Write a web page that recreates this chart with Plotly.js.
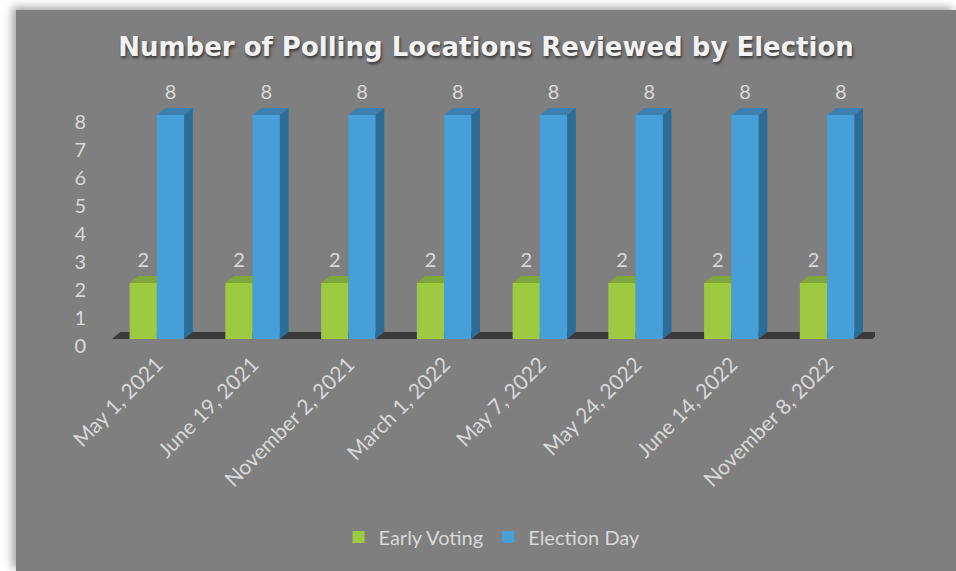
<!DOCTYPE html>
<html>
<head>
<meta charset="utf-8">
<script src="https://cdn.plot.ly/plotly-3.0.1.min.js"></script>
<style>
  html, body { margin: 0; padding: 0; background: #ffffff; width: 956px; height: 571px; overflow: hidden; }
  #frame { position: absolute; left: 16px; top: 10px; width: 940px; height: 561px;
           background: #7f7f7f; box-shadow: -4px -3px 8px rgba(0,0,0,0.35); }
  #chart { width: 940px; height: 561px; }
</style>
</head>
<body>
<div id="frame"><div id="chart"></div></div>
<script>
// ---- data ----
const categories = ["May 1, 2021", "June 19, 2021", "November 2, 2021", "March 1, 2022",
                    "May 7, 2022", "May 24, 2022", "June 14, 2022", "November 8, 2022"];
const earlyVoting = [2, 2, 2, 2, 2, 2, 2, 2];
const electionDay = [8, 8, 8, 8, 8, 8, 8, 8];
const seriesNames = ["Early Voting", "Election Day"];
const yTicks = [0, 1, 2, 3, 4, 5, 6, 7, 8];

// ---- styling / geometry (in axis units) ----
const W = 0.285;     // front width of each bar
const DX = 0.09;     // 3D depth, horizontal
const DY = 0.25;     // 3D depth, vertical
const LABEL_LIFT = 0.4;
const idx = categories.map((_, i) => i);
const labelFont = { family: "Lato, 'Open Sans', sans-serif", size: 20, color: "#d9d9d9" };
const xTickFont = { family: "Lato, 'Open Sans', sans-serif", size: 21, color: "#d9d9d9" };

function polys(builder) {
  const xs = [], ys = [];
  idx.forEach(i => {
    const p = builder(i);
    p.forEach(pt => { xs.push(pt[0]); ys.push(pt[1]); });
    xs.push(p[0][0]); ys.push(p[0][1]);
    xs.push(null); ys.push(null);
  });
  return { xs, ys };
}
// green (Early Voting) occupies [i-W, i]; blue (Election Day) occupies [i, i+W]
const greenTop = polys(i => { const v = earlyVoting[i];
  return [[i - W, v], [i - W + DX, v + DY], [i, v + DY], [i, v]]; });
const blueTop = polys(i => { const v = electionDay[i];
  return [[i, v], [i + DX, v + DY], [i + W + DX, v + DY], [i + W, v]]; });
const blueSide = polys(i => { const v = electionDay[i];
  return [[i + W, 0], [i + W + DX, DY], [i + W + DX, v + DY], [i + W, v]]; });

const faceTrace = (p, color) => ({
  type: "scatter", mode: "lines", x: p.xs, y: p.ys, fill: "toself",
  fillcolor: color, line: { width: 0, color: color }, showlegend: false, hoverinfo: "skip"
});

const traces = [
  {
    type: "bar", name: seriesNames[0], x: idx, y: earlyVoting, width: W, offset: -W,
    marker: { color: "#9dca40", line: { width: 0 } }
  },
  {
    type: "bar", name: seriesNames[1], x: idx, y: electionDay, width: W, offset: 0,
    marker: { color: "#45a0d9", line: { width: 0 } }
  },
  faceTrace(greenTop, "#7fa63a"),
  faceTrace(blueTop, "#3c7fb1"),
  faceTrace(blueSide, "#2d6c97"),
  {
    type: "scatter", mode: "text", x: idx.map(i => i - W / 2), y: earlyVoting.map(v => v + LABEL_LIFT),
    text: earlyVoting.map(String), textposition: "top center", textfont: labelFont,
    showlegend: false, hoverinfo: "skip", cliponaxis: false
  },
  {
    type: "scatter", mode: "text", x: idx.map(i => i + W / 2), y: electionDay.map(v => v + LABEL_LIFT),
    text: electionDay.map(String), textposition: "top center", textfont: labelFont,
    showlegend: false, hoverinfo: "skip", cliponaxis: false
  }
];

const n = categories.length;
const floorPath = `M ${-0.47},0 L ${-0.47 + DX},${DY} L ${n - 1 + 0.47 + DX},${DY} L ${n - 1 + 0.47},0 Z`;

const layout = {
  width: 940, height: 561,
  paper_bgcolor: "#7f7f7f", plot_bgcolor: "rgba(0,0,0,0)",
  margin: { l: 93, r: 81, t: 77, b: 232 },
  barmode: "overlay",
  title: {
    text: "<b>Number of Polling Locations Reviewed by Election</b>",
    x: 0.5, xref: "container", xanchor: "center",
    y: 0.934, yref: "container", yanchor: "middle",
    font: { family: "'DejaVu Sans', sans-serif", size: 26, color: "#f2f2f2",
            shadow: "1px 2px 3px rgba(0,0,0,0.6)" }
  },
  xaxis: {
    range: [-0.5, n - 0.5], tickvals: idx, ticktext: categories,
    tickangle: -45, tickfont: xTickFont, ticklabelstandoff: 8,
    showgrid: false, zeroline: false, showline: false, ticks: "", automargin: false
  },
  yaxis: {
    range: [0, 9], tickvals: yTicks, ticktext: yTicks.map(String),
    tickfont: labelFont, showgrid: false, zeroline: false, showline: false,
    ticks: "", ticklabelstandoff: 22, ticklabelshift: 7, automargin: false
  },
  shapes: [
    { type: "path", xref: "x", yref: "y", path: floorPath, layer: "below",
      fillcolor: "#3a3a3a", line: { width: 0 } }
  ],
  showlegend: true,
  legend: {
    orientation: "h", x: 0.5, xanchor: "center", y: -0.786, yanchor: "middle",
    font: labelFont, bgcolor: "rgba(0,0,0,0)", traceorder: "normal"
  }
};

Plotly.newPlot("chart", traces, layout, { displayModeBar: false, staticPlot: true });
</script>
</body>
</html>
